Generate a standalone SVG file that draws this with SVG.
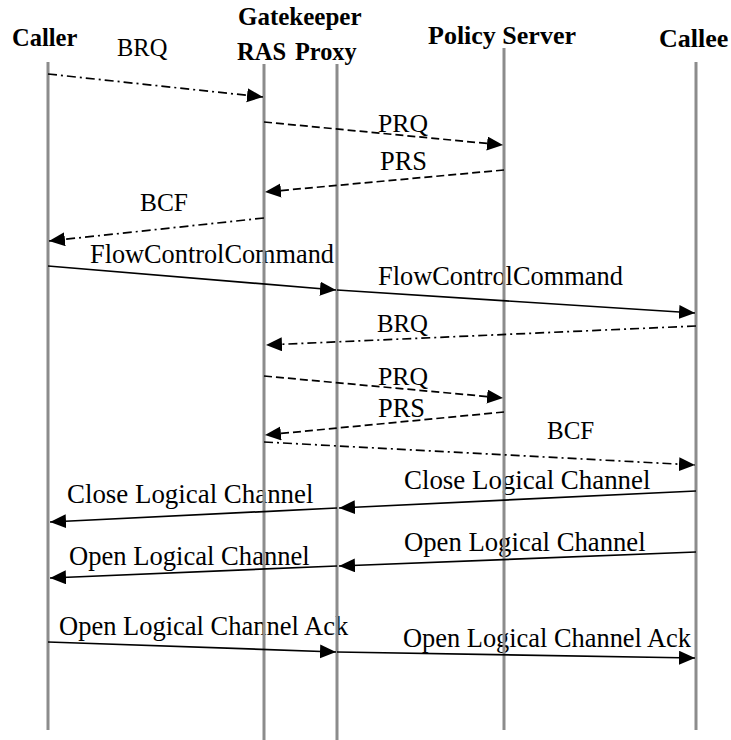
<svg xmlns="http://www.w3.org/2000/svg" width="731" height="740" viewBox="0 0 731 740">
<style>
  .hdr { font-family: "Liberation Serif", "Times New Roman", serif; font-weight: bold; fill: #000; }
  .lbl { font-family: "Liberation Serif", "Times New Roman", serif; fill: #000; }
  .life { stroke: #8c8c8c; stroke-width: 3; fill: none; }
  .msg { stroke: #000; stroke-width: 1.7; fill: none; }
  .dash { stroke-dasharray: 8 4; }
  .dashdot { stroke-dasharray: 9 4 2 4; }
</style>
<defs>
  <marker id="arrow" markerUnits="userSpaceOnUse" markerWidth="17" markerHeight="15" refX="16" refY="7" orient="auto">
    <path d="M0,0 L16,7 L0,14 Z" fill="#000"/>
  </marker>
</defs>
<rect width="731" height="740" fill="#fff"/>

<g id="labels">
  <text class="lbl" font-size="24.5" x="117" y="56">BRQ</text>
  <text class="lbl" font-size="25.7" x="378" y="132">PRQ</text>
  <text class="lbl" font-size="26.4" x="380" y="170">PRS</text>
  <text class="lbl" font-size="25.4" x="140" y="211">BCF</text>
  <text class="lbl" font-size="26.3" x="90" y="263">FlowControlCommand</text>
  <text class="lbl" font-size="26.4" x="378" y="285">FlowControlCommand</text>
  <text class="lbl" font-size="24.8" x="377" y="332">BRQ</text>
  <text class="lbl" font-size="25.7" x="378" y="385">PRQ</text>
  <text class="lbl" font-size="26.4" x="378" y="417">PRS</text>
  <text class="lbl" font-size="25" x="547" y="439">BCF</text>
  <text class="lbl" font-size="26.9" x="404" y="489">Close Logical Channel</text>
  <text class="lbl" font-size="26.9" x="67" y="503">Close Logical Channel</text>
  <text class="lbl" font-size="26.7" x="404" y="551">Open Logical Channel</text>
  <text class="lbl" font-size="26.6" x="69" y="565">Open Logical Channel</text>
  <text class="lbl" font-size="26.5" x="59" y="635">Open Logical Channel Ack</text>
  <text class="lbl" font-size="26.4" x="403" y="647">Open Logical Channel Ack</text>
</g>

<g id="caller">
  <text class="hdr" font-size="24.5" x="12" y="46">Caller</text>
  <line class="life" x1="48" y1="62" x2="48" y2="730"/>
</g>
<g id="gatekeeper">
  <text class="hdr" font-size="25" x="238" y="25">Gatekeeper</text>
</g>
<g id="ras">
  <text class="hdr" font-size="24.5" x="237" y="60">RAS</text>
  <line class="life" x1="264" y1="64" x2="264" y2="740"/>
</g>
<g id="proxy">
  <text class="hdr" font-size="24.3" x="295" y="60">Proxy</text>
  <line class="life" x1="337" y1="64" x2="337" y2="740"/>
</g>
<g id="policy-server">
  <text class="hdr" font-size="26" x="428" y="44">Policy Server</text>
  <line class="life" x1="504" y1="48" x2="504" y2="730"/>
</g>
<g id="callee">
  <text class="hdr" font-size="26" x="659" y="47">Callee</text>
  <line class="life" x1="696" y1="62" x2="696" y2="730"/>
</g>

<g id="connectors">
  <line class="msg dashdot" x1="48" y1="74" x2="263" y2="97" marker-end="url(#arrow)"/>
  <line class="msg dash" x1="264" y1="122" x2="503" y2="145" marker-end="url(#arrow)"/>
  <line class="msg dash" x1="504" y1="170" x2="265" y2="192" marker-end="url(#arrow)"/>
  <line class="msg dashdot" x1="264" y1="218" x2="49" y2="241" marker-end="url(#arrow)"/>
  <line class="msg" x1="48" y1="266" x2="336" y2="290" marker-end="url(#arrow)"/>
  <line class="msg" x1="337" y1="290" x2="695" y2="313" marker-end="url(#arrow)"/>
  <line class="msg dashdot" x1="696" y1="326" x2="266" y2="345" marker-end="url(#arrow)"/>
  <line class="msg dash" x1="264" y1="376" x2="503" y2="398" marker-end="url(#arrow)"/>
  <line class="msg dash" x1="504" y1="412" x2="265" y2="435" marker-end="url(#arrow)"/>
  <line class="msg dashdot" x1="264" y1="442" x2="695" y2="465" marker-end="url(#arrow)"/>
  <line class="msg" x1="696" y1="491" x2="339" y2="508" marker-end="url(#arrow)"/>
  <line class="msg" x1="337" y1="508" x2="50" y2="522" marker-end="url(#arrow)"/>
  <line class="msg" x1="696" y1="552" x2="339" y2="566" marker-end="url(#arrow)"/>
  <line class="msg" x1="337" y1="566" x2="50" y2="578" marker-end="url(#arrow)"/>
  <line class="msg" x1="48" y1="642" x2="336" y2="652" marker-end="url(#arrow)"/>
  <line class="msg" x1="337" y1="652" x2="695" y2="658" marker-end="url(#arrow)"/>
</g>
</svg>
